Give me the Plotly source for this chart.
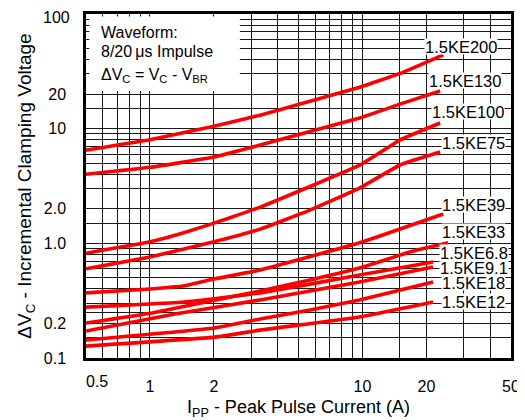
import math
import plotly.graph_objects as go

# ---- data ----
ipp_200 = [0.5, 1.0, 2.0, 3.3, 9.7, 15.5, 24.0]
dvc_200 = [6.5, 8.0, 10.5, 13.1, 23.0, 31.0, 44.0]

ipp_130 = [0.5, 1.0, 2.0, 3.3, 9.7, 15.5, 23.2]
dvc_130 = [4.0, 4.6, 5.65, 7.2, 12.4, 16.7, 21.3]

ipp_100 = [0.5, 1.0, 1.43, 2.0, 3.3, 9.7, 15.0, 23.2]
dvc_100 = [0.82, 1.03, 1.23, 1.5, 2.07, 4.8, 7.96, 11.2]

ipp_75 = [0.5, 1.0, 2.0, 3.3, 5.67, 9.7, 15.0, 23.2]
dvc_75 = [0.6, 0.76, 1.03, 1.33, 1.95, 3.03, 4.82, 6.25]

ipp_39 = [0.5, 1.0, 1.43, 2.0, 3.3, 9.7, 24.0]
dvc_39 = [0.37, 0.40, 0.424, 0.488, 0.585, 1.01, 1.80]

ipp_33 = [0.5, 1.02, 3.3, 5.67, 9.7, 16.7, 25.3]
dvc_33 = [0.202, 0.247, 0.384, 0.479, 0.609, 0.84, 1.01]

ipp_6v8 = [0.5, 1.0, 1.46, 3.3, 9.7, 21.5]
dvc_6v8 = [0.278, 0.296, 0.308, 0.369, 0.529, 0.687]

ipp_9v1 = [0.5, 1.31, 3.3, 9.7, 21.5]
dvc_9v1 = [0.172, 0.242, 0.321, 0.46, 0.621]

ipp_18 = [0.5, 2.02, 3.3, 5.67, 9.7, 21.5]
dvc_18 = [0.144, 0.183, 0.219, 0.262, 0.321, 0.46]

ipp_12 = [0.5, 2.02, 3.3, 9.7, 21.5]
dvc_12 = [0.127, 0.152, 0.175, 0.228, 0.308]

series_names = ["1.5KE200", "1.5KE130", "1.5KE100", "1.5KE75", "1.5KE39",
                "1.5KE33", "1.5KE6.8", "1.5KE9.1", "1.5KE18", "1.5KE12"]
series_x = [ipp_200, ipp_130, ipp_100, ipp_75, ipp_39, ipp_33, ipp_6v8, ipp_9v1, ipp_18, ipp_12]
series_y = [dvc_200, dvc_130, dvc_100, dvc_75, dvc_39, dvc_33, dvc_6v8, dvc_9v1, dvc_18, dvc_12]

# label anchor positions (left edge x, centre y) in data units
label_x = [19.5, 20.3, 21.0, 23.3, 23.3, 23.3, 23.0, 23.0, 23.3, 23.3]
label_y = [52.5, 26.5, 14.2, 7.64, 2.20, 1.26, 0.84, 0.621, 0.451, 0.314]

x_tickvals = [0.5, 1, 2, 10, 20, 50]
x_ticktext = ["", "1", "2", "10", "20", "50"]
x_minor = [0.6, 0.7, 0.8, 0.9, 3, 4, 5, 6, 7, 8, 9, 15, 30, 40]

y_tickvals = [0.1, 0.2, 1, 2, 10, 20, 100]
y_ticktext = ["0.1", "0.2", "1.0", "2.0", "10", "20", ""]
y_minor = [0.15, 0.25, 0.3, 0.4, 0.5, 0.6, 0.7, 0.8, 0.9, 1.5,
           3, 4, 5, 6, 7, 8, 9, 15, 30, 40, 50, 60, 70, 80, 90]

FONT = "Arial, 'Liberation Sans', sans-serif"
GRID = "#1a1a1a"

fig = go.Figure()
for name, xs, ys in zip(series_names, series_x, series_y):
    fig.add_trace(go.Scatter(
        x=xs, y=ys, mode="lines", name=name,
        line=dict(color="#ff0000", width=3.6, shape="spline", smoothing=0.3),
        showlegend=False, hoverinfo="skip"))

for name, lx, ly in zip(series_names, label_x, label_y):
    fig.add_annotation(
        x=math.log10(lx), y=math.log10(ly), xref="x", yref="y",
        text=name, showarrow=False, xanchor="left", yanchor="middle",
        font=dict(family=FONT, size=16.5, color="black"),
        bgcolor="white", borderpad=0, height=15)

# edge tick labels placed as in the reference (slightly inside the frame)
fig.add_annotation(xref="paper", yref="paper", x=0.026, y=0, yshift=-23,
                   xanchor="center", yanchor="middle", showarrow=False,
                   text="0.5", font=dict(family=FONT, size=16, color="black"))
fig.add_annotation(xref="paper", yref="paper", x=0, y=1, xshift=-14, yshift=-3,
                   xanchor="right", yanchor="middle", showarrow=False,
                   text="100", font=dict(family=FONT, size=16, color="black"))

# white info box
fig.add_shape(type="rect", xref="paper", yref="paper",
              x0=0.008, x1=0.362, y0=0.776, y1=0.993,
              fillcolor="white", line=dict(width=0), layer="above")
info_lines = ["Waveform:", "8/20\u2009μs Impulse",
              "ΔV<sub>C</sub> = V<sub>C</sub> - V<sub>BR</sub>"]
info_y = [0.945, 0.892, 0.822]
for t, yy in zip(info_lines, info_y):
    fig.add_annotation(xref="paper", yref="paper", x=0.030, y=yy,
                       xanchor="left", yanchor="middle", align="left",
                       showarrow=False, text=t,
                       font=dict(family=FONT, size=16, color="black"))

axis_common = dict(
    type="log", showgrid=True, gridcolor=GRID, gridwidth=1,
    showline=True, mirror=True, linecolor="black", linewidth=2.5,
    ticks="", zeroline=False, automargin=False, ticklabeloverflow="allow",
    tickfont=dict(family=FONT, size=16, color="black"),
)

fig.update_xaxes(
    **axis_common,
    range=[math.log10(0.5), math.log10(50)],
    tickmode="array", tickvals=x_tickvals, ticktext=x_ticktext,
    minor=dict(tickmode="array", tickvals=x_minor, showgrid=True,
               gridcolor=GRID, gridwidth=1, ticks=""),
    ticklabelstandoff=12,
    title=dict(text="I<sub>PP</sub> - Peak Pulse Current (A)",
               font=dict(family=FONT, size=18, color="black"), standoff=12),
)
fig.update_yaxes(
    **axis_common,
    range=[-1, 2],
    tickmode="array", tickvals=y_tickvals, ticktext=y_ticktext,
    minor=dict(tickmode="array", tickvals=y_minor, showgrid=True,
               gridcolor=GRID, gridwidth=1, ticks=""),
    ticklabelstandoff=14,
    title=dict(text="ΔV<sub>C</sub> - Incremental Clamping Voltage",
               font=dict(family=FONT, size=19, color="black"), standoff=8),
)

# the page body adds an 8 px offset, so the figure is sized to fit the window
fig.update_layout(
    width=517, height=412,
    margin=dict(l=78, r=14, t=6, b=62),
    paper_bgcolor="white", plot_bgcolor="white",
    font=dict(family=FONT, color="black"),
)

fig.write_html("out.html")
